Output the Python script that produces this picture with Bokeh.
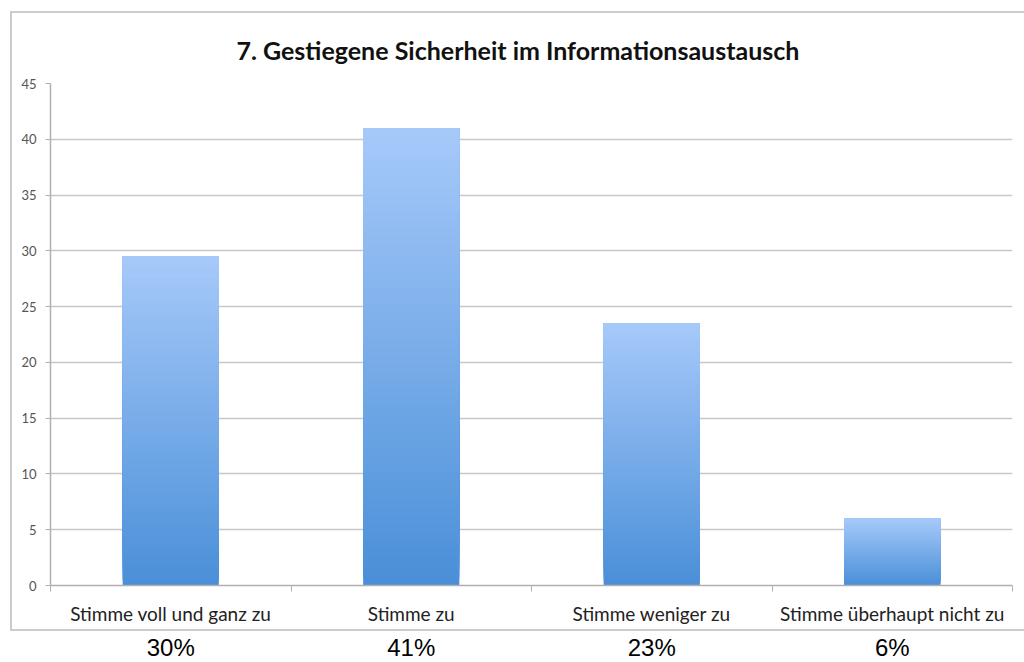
import numpy as np
from bokeh.plotting import figure
from bokeh.layouts import column, row
from bokeh.models import Range1d, FixedTicker, ColumnDataSource, Spacer
from bokeh.embed import file_html
from bokeh.resources import INLINE
from bokeh.core.properties import value

# ---- data ----
title = "7. Gestiegene Sicherheit im Informationsaustausch"
categories = ["Stimme voll und ganz zu", "Stimme zu", "Stimme weniger zu", "Stimme überhaupt nicht zu"]
counts = [29.5, 41, 23.5, 6]
percents = ["30%", "41%", "23%", "6%"]
y_ticks = [0, 5, 10, 15, 20, 25, 30, 35, 40, 45]

# ---- styling ----
top_rgb = np.array([166, 201, 249])
bot_rgb = np.array([74, 143, 216])
bar_half = 0.2
n_steps = 60
frame_css = "2px solid #cccccc"

centers = np.arange(len(categories)) + 0.5

# gradient bars: stacked slices, each reaching the bar top, drawn bottom-up
left, right, bottom, top, color = [], [], [], [], []
for c, v in zip(centers, counts):
    edges = np.linspace(0, v, n_steps + 1)
    for i in range(n_steps):
        t = (i + 0.5) / n_steps
        rgb = bot_rgb + (top_rgb - bot_rgb) * t
        left.append(c - bar_half)
        right.append(c + bar_half)
        bottom.append(edges[i])
        top.append(v)
        color.append("#%02x%02x%02x" % tuple(int(round(x)) for x in rgb))
src = ColumnDataSource(dict(left=left, right=right, bottom=bottom, top=top, color=color))

p = figure(width=1014, height=620, x_range=Range1d(0, len(categories)), y_range=Range1d(0, 45),
           output_backend="svg", toolbar_location=None, title=title,
           min_border_left=38, min_border_right=14, min_border_top=68, min_border_bottom=48)
p.styles = {"border-top": frame_css, "border-left": frame_css, "border-bottom": frame_css}
p.outline_line_color = None
p.background_fill_color = "white"
p.border_fill_color = "white"

p.quad(left="left", right="right", bottom="bottom", top="top", fill_color="color",
       line_color=None, source=src)

p.title.text_font = "Lato"
p.title.text_font_style = "bold"
p.title.text_font_size = "25px"
p.title.align = "left"
p.title.offset = 186
p.title.standoff = 38
p.title.text_color = "#111111"

# y axis
p.yaxis.ticker = FixedTicker(ticks=y_ticks)
p.yaxis.major_tick_out = 5
p.yaxis.major_tick_in = 0
p.yaxis.minor_tick_out = 0
p.yaxis.minor_tick_in = 0
p.yaxis.axis_line_color = "#b0b0b0"
p.yaxis.axis_line_width = 1.5
p.yaxis.major_tick_line_color = "#b0b0b0"
p.yaxis.major_label_text_font = "Lato"
p.yaxis.major_label_text_font_size = "13px"
p.yaxis.major_label_text_color = "#555555"
p.yaxis.major_label_standoff = 9

# x axis: labels at centers, ticks at boundaries
p.xaxis.ticker = FixedTicker(ticks=list(centers), minor_ticks=list(range(len(categories) + 1)))
p.xaxis.major_label_overrides = {float(c): cat for c, cat in zip(centers, categories)}
p.xaxis.major_tick_out = 0
p.xaxis.major_tick_in = 0
p.xaxis.minor_tick_out = 6
p.xaxis.minor_tick_in = 0
p.xaxis.minor_tick_line_color = "#b0b0b0"
p.xaxis.axis_line_color = "#b0b0b0"
p.xaxis.axis_line_width = 1.5
p.xaxis.major_label_text_font = "Lato"
p.xaxis.major_label_text_font_size = "19px"
p.xaxis.major_label_text_color = "#222222"
p.xaxis.major_label_standoff = 10

p.xgrid.visible = False
p.ygrid.ticker = FixedTicker(ticks=y_ticks)
p.ygrid.grid_line_color = "#c8c8c8"
p.ygrid.grid_line_width = 1.5

# percentages row under the framed chart
p2 = figure(width=1024, height=31, x_range=p.x_range, y_range=Range1d(0, 1),
            output_backend="svg", toolbar_location=None,
            x_axis_type=None, y_axis_type=None,
            min_border_left=50, min_border_right=12, min_border_top=0, min_border_bottom=0)
p2.outline_line_color = None
p2.text(x=centers, y=[0.484] * len(percents), text=percents, text_align="center",
        text_baseline="middle", text_font=value("Liberation Sans"), text_font_size="24px",
        text_color="black")

layout = column(Spacer(height=11), row(Spacer(width=10), p, spacing=0), p2, spacing=0)
open("out.html", "w").write(file_html(layout, INLINE))
